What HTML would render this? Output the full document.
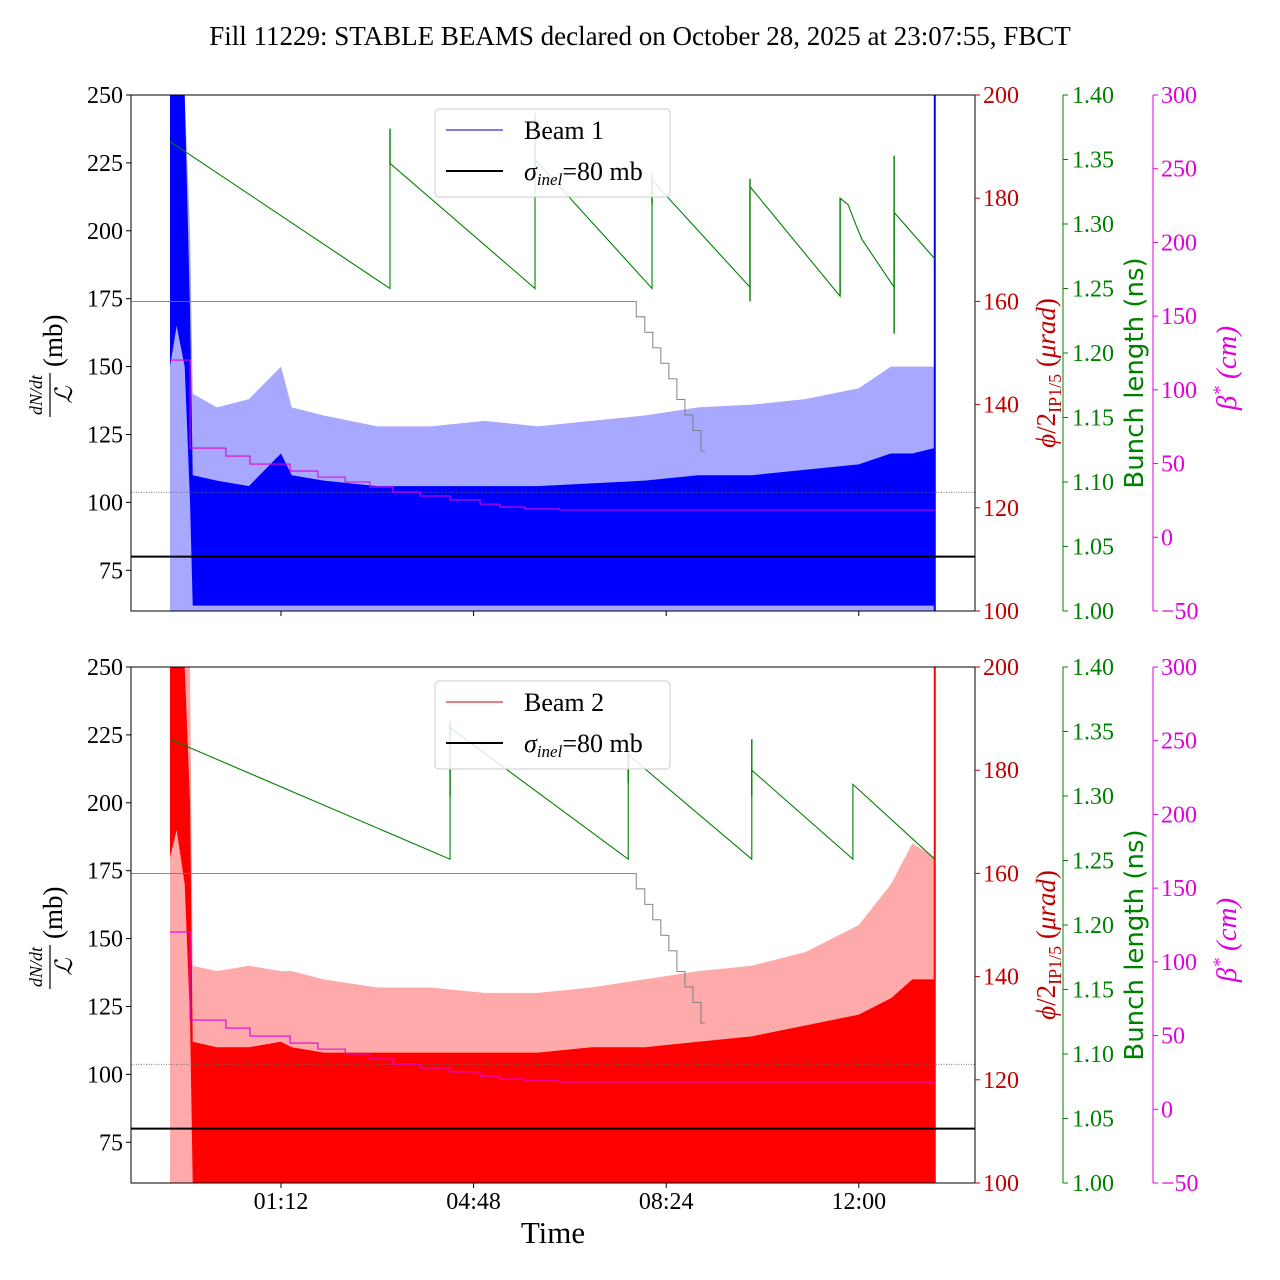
<!DOCTYPE html>
<html><head><meta charset="utf-8"><style>
html,body{margin:0;padding:0;background:#fff;}
svg{display:block;font-family:"Liberation Serif",serif;}
</style></head><body>
<svg id="chart" width="1280" height="1280" viewBox="0 0 1280 1280" xmlns="http://www.w3.org/2000/svg">
<text x="640" y="45" font-size="27" text-anchor="middle">Fill 11229: STABLE BEAMS declared on October 28, 2025 at 23:07:55, FBCT</text>
</svg>
<script>
// ---- data ----
const xTickLabels = ["01:12","04:48","08:24","12:00"];
const xTickHours = [1.2,4.8,8.4,12.0];
const leftTicks = [75,100,125,150,175,200,225,250];
const redTicks = [100,120,140,160,180,200];
const greenTicks = [1.00,1.05,1.10,1.15,1.20,1.25,1.30,1.35,1.40];
const magTicks = [-50,0,50,100,150,200,250,300];

const envTimes = [-0.875,-0.75,-0.6,-0.5,-0.45,0,0.6,1.2,1.4,2,3,4,5,6,7,8,9,10,11,12,12.6,13,13.42];
const b1LightHi = [250,250,250,200,140,135,138,150,135,132,128,128,130,128,130,132,135,136,138,142,150,150,150];
const b1DarkHi  = [250,250,250,170,110,108,106,118,110,108,106,106,106,106,107,108,110,110,112,114,118,118,120];
const b1DarkLo  = [150,165,150,100,62,62,62,62,62,62,62,62,62,62,62,62,62,62,62,62,62,62,62];
const b2LightHi = [250,250,250,250,140,138,140,138,138,135,132,132,130,130,132,135,138,140,145,155,170,185,180];
const b2DarkHi  = [250,250,250,200,112,110,110,112,110,108,108,108,108,108,110,110,112,114,118,122,128,135,135];
const b2DarkLo  = [180,190,170,120,60,60,60,60,60,60,60,60,60,60,60,60,60,60,60,60,60,60,60];

const b1GreenT = [-0.875,3.237,3.237,5.948,5.948,8.135,8.135,9.966,9.966,11.65,11.65,11.80,11.95,12.06,12.66,12.66,13.42];
const b1GreenV = [1.364,1.250,1.347,1.250,1.350,1.250,1.334,1.251,1.329,1.244,1.320,1.315,1.299,1.288,1.251,1.309,1.273];
const b1SpikeT = [3.237,5.948,8.135,9.966,11.65,12.66];
const b1SpikeLo = [1.347,1.330,1.315,1.240,1.245,1.215];
const b1SpikeHi = [1.374,1.386,1.340,1.335,1.320,1.353];
const b2GreenT = [-0.875,4.36,4.36,7.69,7.69,10.0,10.0,11.89,11.89,13.42];
const b2GreenV = [1.344,1.251,1.353,1.251,1.332,1.251,1.320,1.251,1.309,1.251];
const b2SpikeT = [4.36,7.69,10.0];
const b2SpikeLo = [1.300,1.310,1.300];
const b2SpikeHi = [1.358,1.335,1.344];

const xingT = [-1.6,7.84,7.84,8.0,8.0,8.15,8.15,8.3,8.3,8.45,8.45,8.6,8.6,8.75,8.75,8.9,8.9,9.05,9.05,9.13];
const xingV = [160,160,157,157,154,154,151,151,148,148,145,145,141,141,138,138,135,135,131,131];
const betaT = [-0.875,-0.5,0.17,0.62,1.37,1.89,2.40,2.86,3.29,3.80,4.36,4.92,5.29,5.76,6.41];
const betaV = [120.2,60.5,55.1,49.7,44.9,40.8,37.5,34.1,30.7,28.0,25.3,22.5,20.5,19.2,18.5];
const betaEnd = 13.42;
const refDotted = 103.7;
const sigmaInel = 80;
// ---- drawing ----
const NS="http://www.w3.org/2000/svg";
const svg=document.getElementById('chart');
const X0=131,X1=975;
function xs(h){return 281+(h-1.2)*53.5;}
function mk(tag,attrs,parent){const e=document.createElementNS(NS,tag);for(const k in attrs)e.setAttribute(k,attrs[k]);(parent||svg).appendChild(e);return e;}
function txt(s,attrs,parent){const e=mk('text',attrs,parent);e.textContent=s;return e;}

function panel(top,beam,lightHi,darkHi,darkLo,lightCol,darkCol,lineCol,gT,gV,sT,sLo,sHi){
  const H=516;
  const yL=v=>top+(250-v)*H/190, yR=v=>top+(200-v)*H/100, yG=v=>top+(1.4-v)*H/0.4, yM=v=>top+(300-v)*H/350;
  const g=mk('g',{});
  
  
  const cp='clip'+beam;
  const cl=mk('clipPath',{id:cp},g);mk('rect',{x:X0,y:top,width:X1-X0,height:H},cl);
  const d=mk('g',{'clip-path':'url(#'+cp+')'},g);
  let p=envTimes.map((t,i)=>xs(t)+','+yL(lightHi[i])).join(' ')+' '+xs(envTimes[envTimes.length-1])+','+yL(58)+' '+xs(envTimes[0])+','+yL(58);
  const la=mk('polygon',{points:p,fill:lightCol},d);
  
  
  let q=envTimes.map((t,i)=>xs(t)+','+yL(darkHi[i])).join(' ')+' '+envTimes.slice().reverse().map((t,j)=>{const i=envTimes.length-1-j;return xs(t)+','+yL(darkLo[i]);}).join(' ');
  const da=mk('polygon',{points:q,fill:darkCol},d);
  
  
  mk('line',{x1:xs(13.42),x2:xs(13.42),y1:top,y2:top+H,stroke:darkCol,'stroke-width':2},d);
  const rl=mk('line',{x1:X0,x2:X1,y1:yL(refDotted),y2:yL(refDotted),stroke:'#666','stroke-width':0.8,'stroke-dasharray':'1,1.5'},d);
  
  
  const xe=mk('polyline',{points:xingT.map((t,i)=>xs(t)+','+yR(xingV[i])).join(' '),fill:'none',stroke:'#777','stroke-width':0.9},d);
  
  
  let bp=[];for(let i=0;i<betaT.length;i++){const tn=i<betaT.length-1?betaT[i+1]:betaEnd;bp.push(xs(betaT[i])+','+yM(betaV[i]));bp.push(xs(tn)+','+yM(betaV[i]));}
  const be=mk('polyline',{points:bp.join(' '),fill:'none',stroke:'#e000e0','stroke-width':1.1},d);
  
  
  const ge=mk('polyline',{points:gT.map((t,i)=>xs(t)+','+yG(gV[i])).join(' '),fill:'none',stroke:'#008000','stroke-width':1.1},d);
  
  
  for(let i=0;i<sT.length;i++){const s=mk('line',{x1:xs(sT[i]),x2:xs(sT[i]),y1:yG(sLo[i]),y2:yG(sHi[i]),stroke:'#008000','stroke-width':1.4},d);
    
    }
  const sl=mk('line',{x1:X0,x2:X1,y1:yL(sigmaInel),y2:yL(sigmaInel),stroke:'#000','stroke-width':2},g);
  
  
  mk('rect',{x:X0,y:top,width:X1-X0,height:H,fill:'none',stroke:'#000','stroke-width':1},g);
  const FS=24;
  leftTicks.forEach(v=>{mk('line',{x1:X0-5,x2:X0,y1:yL(v),y2:yL(v),stroke:'#000'},g);
    const t=txt(String(v),{x:X0-8,y:yL(v)+8,'font-size':FS,'text-anchor':'end'},g);
    });
  redTicks.forEach(v=>{mk('line',{x1:X1,x2:X1+5,y1:yR(v),y2:yR(v),stroke:'#c00000'},g);
    const t=txt(String(v),{x:X1+8,y:yR(v)+8,'font-size':FS,fill:'#c00000'},g);
    });
  mk('line',{x1:1063,x2:1063,y1:top,y2:top+H,stroke:'#008000'},g);
  greenTicks.forEach(v=>{mk('line',{x1:1063,x2:1068,y1:yG(v),y2:yG(v),stroke:'#008000'},g);
    const t=txt(v.toFixed(2),{x:1072,y:yG(v)+8,'font-size':FS,fill:'#008000'},g);
    });
  mk('line',{x1:1153,x2:1153,y1:top,y2:top+H,stroke:'#e000e0'},g);
  magTicks.forEach(v=>{mk('line',{x1:1153,x2:1158,y1:yM(v),y2:yM(v),stroke:'#e000e0'},g);
    const t=txt(v<0?'\u2212'+(-v):String(v),{x:1161,y:yM(v)+8,'font-size':FS,fill:'#e000e0'},g);
    });
  xTickHours.forEach(h=>mk('line',{x1:xs(h),x2:xs(h),y1:top+H,y2:top+H+5,stroke:'#000'},g));
  const cy=top+H/2;
  const lt=mk('g',{transform:`translate(62,${cy}) rotate(-90)`},g);
  
  txt('dN/dt',{x:-42,y:-20,'font-size':18,'font-style':'italic','text-anchor':'middle'},lt);
  mk('line',{x1:-64,x2:-20,y1:-12,y2:-12,stroke:'#000','stroke-width':1.2},lt);
  txt('\u2112',{x:-42,y:10,'font-size':24,'font-style':'italic','text-anchor':'middle'},lt);
  txt('(mb)',{x:-14,y:0,'font-size':27},lt);
  const r1=txt('',{transform:`translate(1055,${cy+20}) rotate(-90)`,'font-size':27,fill:'#c00000','text-anchor':'middle'},g);
  r1.innerHTML='<tspan font-style="italic">\u03d5</tspan>/2<tspan font-size="18" dy="6">IP1/5</tspan><tspan dy="-6"> (</tspan><tspan font-style="italic">\u03bcrad</tspan>)';
  
  const r2=txt('Bunch length (ns)',{transform:`translate(1143,${cy+20}) rotate(-90)`,'font-size':26,fill:'#008000','text-anchor':'middle','font-family':'DejaVu Sans, sans-serif'},g);
  
  const r3=txt('',{transform:`translate(1236,${cy+15}) rotate(-90)`,'font-size':29,fill:'#e000e0','text-anchor':'middle','font-style':'italic'},g);
  r3.innerHTML='\u03b2<tspan font-size="19" dy="-10">*</tspan><tspan dy="10"> (cm)</tspan>';
  
  const lg=mk('g',{},g);
  
  mk('rect',{x:435,y:top+14,width:235,height:88,rx:4,fill:'#fff','fill-opacity':0.85,stroke:'#ccc'},lg);
  mk('line',{x1:446,x2:503,y1:top+35,y2:top+35,stroke:lineCol,'stroke-width':1},lg);
  txt('Beam '+beam,{x:524,y:top+44,'font-size':26},lg);
  mk('line',{x1:446,x2:503,y1:top+76,y2:top+76,stroke:'#000','stroke-width':2},lg);
  const st=txt('',{x:524,y:top+85,'font-size':26},lg);
  st.innerHTML='<tspan font-style="italic">\u03c3</tspan><tspan font-size="17" dy="5" font-style="italic">inel</tspan><tspan dy="-5">=80 mb</tspan>';
}
panel(95,1,b1LightHi,b1DarkHi,b1DarkLo,'#a8a8ff','#0000ff','#0000cc',b1GreenT,b1GreenV,b1SpikeT,b1SpikeLo,b1SpikeHi);
panel(667,2,b2LightHi,b2DarkHi,b2DarkLo,'#ffaaaa','#ff0000','#cc0000',b2GreenT,b2GreenV,b2SpikeT,b2SpikeLo,b2SpikeHi);
xTickHours.forEach((h,i)=>{const t=txt(xTickLabels[i],{x:xs(h),y:1209,'font-size':24,'text-anchor':'middle'});
  });
const xt=txt('Time',{x:553,y:1243,'font-size':31,'text-anchor':'middle'});


</script>
</body></html>
